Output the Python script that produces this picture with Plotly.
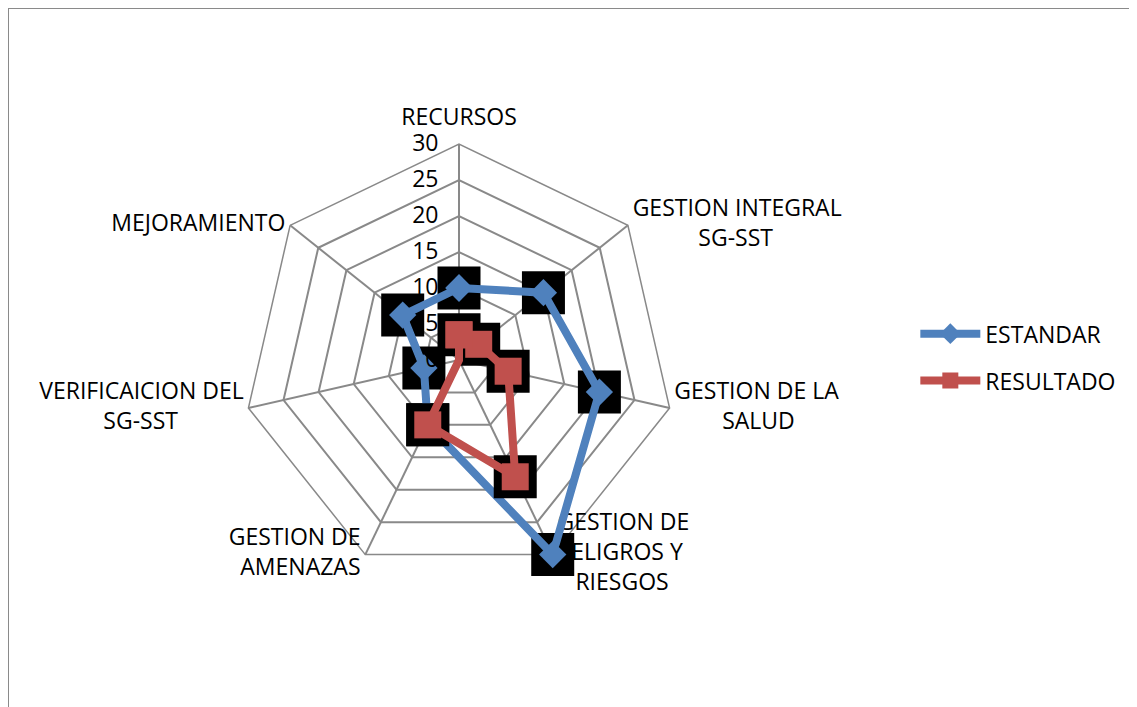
import plotly.graph_objects as go

categorias = ["RECURSOS", "GESTION INTEGRAL SG-SST", "GESTION DE LA SALUD",
              "GESTION DE PELIGROS Y RIESGOS", "GESTION DE AMENAZAS",
              "VERIFICAICION DEL SG-SST", "MEJORAMIENTO"]
# etiquetas en varias lineas (centradas con espacios duros, como en Excel)
nb = '\u00a0'
etiquetas = ["RECURSOS",
             "GESTION INTEGRAL<br>" + nb * 11 + "SG-SST",
             "GESTION DE LA<br>" + nb * 8 + "SALUD",
             "GESTION DE<br>PELIGROS Y<br>" + nb * 3 + "RIESGOS",
             "GESTION DE<br>AMENAZAS",
             "VERIFICAICION DEL<br>SG-SST" + nb * 11,
             "MEJORAMIENTO"]
posiciones = ['top center', 'middle right', 'middle right', 'middle right',
              'middle left', 'middle left', 'middle left']
separacion = [20, 6, 6, 6, 6, 6, 6]
estandar = [10, 15, 20, 30, 10, 5, 10]
resultado = [3.5, 3.5, 7, 18, 10, 0, 0]
ticks = [0, 5, 10, 15, 20, 25, 30]
r_max = 30

azul = '#4F81BD'
rojo = '#C0504D'
fuente = 'Open Sans'

# cerrar el poligono
theta = categorias + categorias[:1]
est = estandar + estandar[:1]
res = resultado + resultado[:1]

fig = go.Figure()

# nombres de las categorias (debajo de los marcadores)
fig.add_trace(go.Scatterpolar(r=[r_max] * len(categorias), theta=categorias, mode='markers+text',
                              text=etiquetas, textposition=posiciones,
                              textfont=dict(size=23, color='black', family=fuente),
                              marker=dict(size=separacion, opacity=0), cliponaxis=False,
                              showlegend=False, hoverinfo='skip'))

# sombras negras de los marcadores (estilo Excel)
fig.add_trace(go.Scatterpolar(r=estandar, theta=categorias, mode='markers',
                              marker=dict(symbol='square', size=43, color='black'),
                              showlegend=False, hoverinfo='skip'))
fig.add_trace(go.Scatterpolar(r=est, theta=theta, mode='lines+markers', name='ESTANDAR',
                              legendgroup='a',
                              line=dict(color=azul, width=8),
                              marker=dict(symbol='diamond', size=21, color=azul)))
fig.add_trace(go.Scatterpolar(r=resultado, theta=categorias, mode='markers',
                              marker=dict(symbol='square', size=43, color='black'),
                              showlegend=False, hoverinfo='skip'))
fig.add_trace(go.Scatterpolar(r=res, theta=theta, mode='lines+markers', name='RESULTADO',
                              legendgroup='b',
                              line=dict(color=rojo, width=8),
                              marker=dict(symbol='square', size=27, color=rojo)))

W, H = 1137, 707
cx, cy, rad = 451, 352, 216

fig.update_layout(
    width=W, height=H,
    margin=dict(l=0, r=0, t=0, b=0),
    paper_bgcolor='white', plot_bgcolor='white',
    font=dict(family=fuente, size=23, color='black'),
    polar=dict(
        domain=dict(x=[(cx - rad) / W, (cx + rad) / W], y=[1 - (cy + rad) / H, 1 - (cy - rad) / H]),
        bgcolor='white',
        gridshape='linear',
        angularaxis=dict(direction='clockwise', rotation=90, showgrid=True,
                         gridcolor='#898989', gridwidth=1.5, linecolor='#898989', linewidth=1.5,
                         ticks='', showticklabels=False, layer='below traces'),
        radialaxis=dict(range=[0, r_max], tickvals=ticks, angle=90, side='counterclockwise',
                        tickangle=90, ticks='outside', ticklen=12, tickcolor='rgba(0,0,0,0)',
                        showline=False, gridcolor='#898989', gridwidth=1.5,
                        layer='above traces', tickfont=dict(size=23)),
    ),
    legend=dict(x=0.798, y=0.506, yanchor='middle', xanchor='left',
                font=dict(size=23), itemwidth=60, tracegroupgap=14,
                bgcolor='rgba(0,0,0,0)'),
    shapes=[dict(type='rect', xref='paper', yref='paper', x0=0, x1=1.02,
                 y0=-0.02, y1=1, line=dict(color='#8a8a8a', width=2))],
)

fig.write_html("out.html")
